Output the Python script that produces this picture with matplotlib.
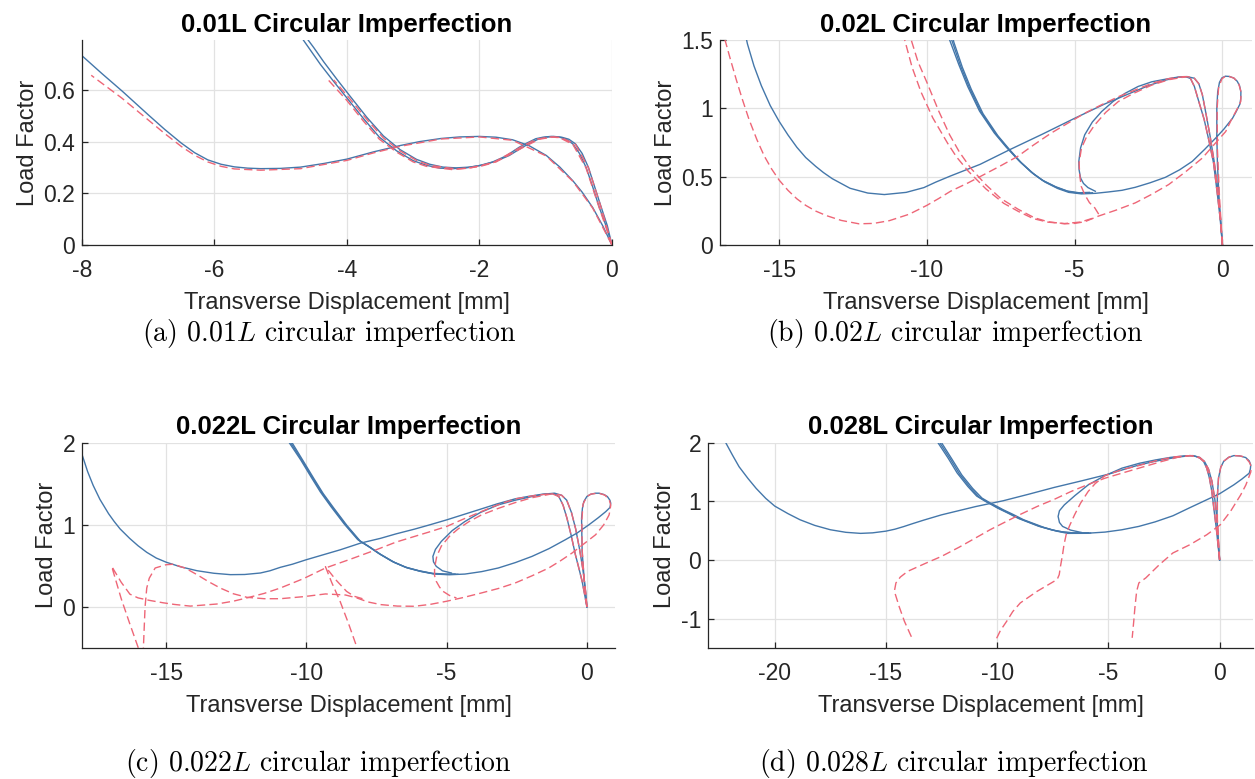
import numpy as np
import matplotlib.pyplot as plt

plt.rcParams['font.family'] = ['Liberation Sans', 'DejaVu Sans']
plt.rcParams['mathtext.fontset'] = 'cm'
plt.rcParams['axes.unicode_minus'] = False

BLUE = '#4477AA'
RED = '#EE6677'
DASH = (0, (6, 3))

# ---------------- (a) 0.01L : (displacement [mm], load factor) ----------------
a_blue_1 = [(0, 0), (-0.14, 0.075), (-0.29, 0.145), (-0.45, 0.205), (-0.59, 0.249), (-0.79, 0.303),
            (-0.99, 0.347), (-1.25, 0.385), (-1.5, 0.408), (-1.75, 0.418), (-2.0, 0.421), (-2.3, 0.419),
            (-2.58, 0.413), (-2.9, 0.401), (-3.19, 0.386), (-3.6, 0.361), (-4.0, 0.333), (-4.35, 0.316),
            (-4.7, 0.302), (-5.0, 0.297), (-5.3, 0.296), (-5.5, 0.298), (-5.7, 0.303), (-5.9, 0.313),
            (-6.1, 0.33), (-6.3, 0.358), (-6.5, 0.395), (-6.75, 0.448), (-7.0, 0.505), (-7.39, 0.596),
            (-7.7, 0.665), (-8.0, 0.734)]
a_blue_2 = [(0, 0), (-0.09, 0.075), (-0.19, 0.145), (-0.29, 0.225), (-0.39, 0.301), (-0.49, 0.355),
            (-0.59, 0.392), (-0.69, 0.41), (-0.79, 0.418), (-0.92, 0.421), (-1.04, 0.418), (-1.15, 0.412),
            (-1.27, 0.397), (-1.4, 0.379), (-1.6, 0.345), (-1.8, 0.322), (-2.0, 0.308), (-2.2, 0.299),
            (-2.4, 0.296), (-2.6, 0.298), (-2.8, 0.309), (-3.0, 0.327), (-3.25, 0.365), (-3.51, 0.418),
            (-3.75, 0.49), (-4.0, 0.57), (-4.2, 0.634), (-4.4, 0.7), (-4.55, 0.755), (-4.7, 0.81)]
a_blue_3 = [(0, 0), (-0.07, 0.075), (-0.16, 0.145), (-0.26, 0.225), (-0.355, 0.301), (-0.45, 0.355),
            (-0.55, 0.392), (-0.65, 0.41), (-0.76, 0.418), (-0.88, 0.421), (-1.0, 0.418), (-1.1, 0.412),
            (-1.22, 0.397), (-1.35, 0.379), (-1.55, 0.347), (-1.75, 0.325), (-1.95, 0.31), (-2.15, 0.302),
            (-2.35, 0.299), (-2.55, 0.302), (-2.75, 0.313), (-2.95, 0.332), (-3.2, 0.37), (-3.45, 0.423),
            (-3.7, 0.495), (-3.95, 0.576), (-4.15, 0.642), (-4.35, 0.71), (-4.5, 0.765), (-4.63, 0.81)]
a_red_1 = [(0, 0), (-0.29, 0.143), (-0.59, 0.247), (-0.99, 0.345), (-1.5, 0.406), (-2.0, 0.419),
           (-2.58, 0.411), (-3.19, 0.383), (-3.6, 0.357), (-4.0, 0.328), (-4.7, 0.296), (-5.3, 0.29),
           (-5.7, 0.295), (-5.9, 0.305), (-6.1, 0.322), (-6.3, 0.348), (-6.5, 0.382), (-6.75, 0.432),
           (-7.0, 0.485), (-7.4, 0.57), (-7.86, 0.658)]
a_red_2 = [(0, 0), (-0.19, 0.143), (-0.39, 0.298), (-0.59, 0.39), (-0.79, 0.416), (-0.92, 0.419),
           (-1.15, 0.41), (-1.4, 0.376), (-1.8, 0.318), (-2.0, 0.304), (-2.4, 0.292), (-2.8, 0.305),
           (-3.0, 0.322), (-3.25, 0.36), (-3.51, 0.41), (-3.75, 0.48), (-4.0, 0.56), (-4.3, 0.645)]
a_red_3 = [(0, 0), (-0.16, 0.143), (-0.355, 0.299), (-0.55, 0.39), (-0.76, 0.416), (-0.88, 0.419),
           (-1.1, 0.41), (-1.35, 0.377), (-1.75, 0.322), (-2.15, 0.298), (-2.35, 0.295), (-2.75, 0.309),
           (-2.95, 0.328), (-3.2, 0.365), (-3.45, 0.415), (-3.7, 0.487), (-3.95, 0.565), (-4.2, 0.64)]

# ---------------- (b) 0.02L ----------------
b_blue_1 = [(0, 0), (-0.08, 0.2), (-0.17, 0.369), (-0.3, 0.6), (-0.45, 0.757), (-0.62, 0.92), (-0.8, 1.05),
            (-0.95, 1.16), (-1.08, 1.218), (-1.25, 1.232), (-1.5, 1.228), (-1.93, 1.206), (-2.45, 1.17),
            (-2.95, 1.126), (-4.0, 1.03), (-5.0, 0.927), (-6.1, 0.81), (-7.2, 0.697), (-8.2, 0.59),
            (-9.2, 0.505), (-9.7, 0.46), (-10.1, 0.42), (-10.7, 0.385), (-11.44, 0.369), (-12.0, 0.38),
            (-12.6, 0.415), (-13.2, 0.485), (-13.5, 0.53), (-13.76, 0.575), (-14.1, 0.64), (-14.4, 0.715),
            (-14.7, 0.805), (-15.0, 0.905), (-15.3, 1.02), (-15.6, 1.165), (-15.85, 1.31), (-16.07, 1.47),
            (-16.15, 1.55)]
b_blue_2 = [(0, 0), (-0.06, 0.175), (-0.15, 0.4), (-0.28, 0.61), (-0.42, 0.8), (-0.57, 0.976), (-0.68, 1.1),
            (-0.8, 1.18), (-0.95, 1.22), (-1.2, 1.232), (-1.6, 1.225), (-2.0, 1.21), (-2.39, 1.194),
            (-2.85, 1.16), (-3.3, 1.109), (-3.7, 1.05), (-4.09, 0.976), (-4.4, 0.9), (-4.66, 0.806),
            (-4.8, 0.71), (-4.86, 0.61), (-4.85, 0.55), (-4.8, 0.49), (-4.7, 0.45), (-4.55, 0.42), (-4.3, 0.393)]
b_blue_3 = [(0, 0), (-0.11, 0.32), (-0.17, 0.6), (-0.19, 0.806), (-0.19, 1.0), (-0.16, 1.12), (-0.1, 1.19),
            (-0.02, 1.222), (0.1, 1.235), (0.23, 1.233), (0.38, 1.222), (0.5, 1.198), (0.58, 1.165),
            (0.625, 1.12), (0.62, 1.07), (0.59, 1.03), (0.45, 0.97), (0.34, 0.927), (0.05, 0.848),
            (-0.23, 0.782), (-0.6, 0.7), (-1.02, 0.612), (-1.45, 0.55), (-1.93, 0.495), (-2.45, 0.455),
            (-2.95, 0.422), (-3.4, 0.4), (-3.86, 0.388), (-4.3, 0.378), (-4.77, 0.374), (-5.2, 0.385),
            (-5.57, 0.413), (-6.0, 0.46), (-6.36, 0.515), (-6.8, 0.6), (-7.2, 0.697), (-7.6, 0.8),
            (-8.1, 0.96), (-8.5, 1.14), (-8.8, 1.3), (-9.09, 1.485), (-9.15, 1.55)]
b_blue_4 = [(-4.4, 0.382), (-4.8, 0.378), (-5.2, 0.39), (-5.6, 0.42), (-6.05, 0.468), (-6.42, 0.525),
            (-6.85, 0.61), (-7.26, 0.707), (-7.66, 0.81), (-8.16, 0.97), (-8.56, 1.15), (-8.86, 1.31),
            (-9.16, 1.5), (-9.22, 1.55)]
b_blue_5 = [(-4.5, 0.385), (-4.85, 0.382), (-5.25, 0.395), (-5.65, 0.427), (-6.1, 0.475), (-6.48, 0.535),
            (-6.9, 0.62), (-7.32, 0.717), (-7.72, 0.82), (-8.22, 0.98), (-8.62, 1.16), (-8.92, 1.32),
            (-9.23, 1.5), (-9.29, 1.55)]
b_red_1 = [(0, 0), (-0.08, 0.2), (-0.17, 0.369), (-0.3, 0.6), (-0.45, 0.757), (-0.62, 0.92), (-0.8, 1.05),
           (-0.95, 1.16), (-1.08, 1.218), (-1.3, 1.232), (-1.8, 1.218), (-2.39, 1.182), (-3.0, 1.13),
           (-3.52, 1.085), (-4.1, 1.025), (-4.66, 0.964), (-5.2, 0.895), (-5.8, 0.818), (-6.4, 0.73),
           (-6.93, 0.648), (-7.5, 0.58), (-8.07, 0.515), (-8.6, 0.455), (-9.2, 0.393), (-9.6, 0.34),
           (-10.0, 0.29), (-10.6, 0.225), (-11.27, 0.178), (-11.8, 0.158), (-12.3, 0.155), (-12.9, 0.18),
           (-13.4, 0.215), (-13.76, 0.248), (-14.1, 0.29), (-14.4, 0.338), (-14.7, 0.4), (-15.0, 0.475),
           (-15.25, 0.555), (-15.5, 0.65), (-15.75, 0.77), (-16.02, 0.92), (-16.25, 1.07), (-16.45, 1.21),
           (-16.65, 1.36), (-16.83, 1.5), (-16.9, 1.55)]
b_red_2 = [(0, 0), (-0.1, 0.35), (-0.17, 0.7), (-0.18, 1.0), (-0.13, 1.15), (-0.02, 1.215), (0.1, 1.235),
           (0.23, 1.233), (0.4, 1.22), (0.55, 1.18), (0.63, 1.12), (0.62, 1.05), (0.51, 1.0), (0.3, 0.915),
           (0.11, 0.83), (-0.3, 0.73), (-0.68, 0.636), (-1.25, 0.535), (-1.82, 0.442), (-2.4, 0.37),
           (-2.95, 0.308), (-3.6, 0.255), (-4.2, 0.211), (-4.66, 0.17), (-5.0, 0.158), (-5.34, 0.155),
           (-5.9, 0.17), (-6.36, 0.199), (-6.9, 0.26), (-7.5, 0.34), (-8.0, 0.44), (-8.52, 0.563),
           (-8.9, 0.68), (-9.23, 0.806), (-9.6, 0.98), (-10.0, 1.19), (-10.3, 1.34), (-10.53, 1.5),
           (-10.6, 1.55)]
b_red_3 = [(-4.4, 0.195), (-4.8, 0.168), (-5.34, 0.157), (-5.9, 0.167), (-6.4, 0.193), (-6.9, 0.245),
           (-7.4, 0.305), (-8.0, 0.41), (-8.6, 0.54), (-9.0, 0.645), (-9.3, 0.745), (-9.8, 0.93),
           (-10.2, 1.12), (-10.5, 1.3), (-10.75, 1.5), (-10.8, 1.55)]
b_red_4 = [(0, 0), (-0.06, 0.175), (-0.15, 0.4), (-0.28, 0.61), (-0.42, 0.8), (-0.57, 0.976), (-0.68, 1.1),
           (-0.8, 1.18), (-0.95, 1.22), (-1.2, 1.232), (-1.8, 1.21), (-2.39, 1.17), (-3.0, 1.11),
           (-3.52, 1.05), (-3.95, 0.97), (-4.32, 0.879), (-4.6, 0.79), (-4.77, 0.709), (-4.85, 0.6),
           (-4.83, 0.515), (-4.78, 0.43), (-4.66, 0.369), (-4.5, 0.31), (-4.32, 0.272), (-4.18, 0.223)]

# ---------------- (c) 0.022L ----------------
c_blue_1 = [(0, 0), (-0.08, 0.15), (-0.17, 0.312), (-0.3, 0.49), (-0.41, 0.636), (-0.56, 0.87), (-0.71, 1.08),
            (-0.85, 1.24), (-1.0, 1.344), (-1.18, 1.38), (-1.6, 1.372), (-2.1, 1.345), (-2.56, 1.316),
            (-3.2, 1.255), (-3.76, 1.194), (-4.4, 1.125), (-5.0, 1.06), (-5.6, 1.0), (-6.15, 0.947),
            (-6.8, 0.89), (-7.36, 0.835), (-8.07, 0.777), (-8.79, 0.696), (-9.4, 0.635), (-10.0, 0.575),
            (-10.5, 0.52), (-10.93, 0.482), (-11.3, 0.44), (-11.64, 0.413), (-12.2, 0.395), (-12.71, 0.393),
            (-13.3, 0.41), (-13.9, 0.441), (-14.5, 0.49), (-15.0, 0.545), (-15.35, 0.595), (-15.69, 0.665),
            (-16.0, 0.745), (-16.3, 0.835), (-16.64, 0.95), (-16.85, 1.04), (-17.05, 1.135), (-17.36, 1.31),
            (-17.6, 1.48), (-17.8, 1.65), (-18.01, 1.87), (-18.05, 1.92)]
c_blue_2 = [(0, 0), (-0.05, 0.2), (-0.14, 0.45), (-0.26, 0.7), (-0.4, 0.95), (-0.55, 1.15), (-0.72, 1.3),
            (-0.9, 1.36), (-1.15, 1.385), (-1.5, 1.375), (-1.96, 1.344), (-2.55, 1.3), (-3.16, 1.243),
            (-3.8, 1.15), (-4.35, 1.04), (-4.8, 0.93), (-5.19, 0.798), (-5.4, 0.7), (-5.49, 0.615),
            (-5.47, 0.55), (-5.37, 0.494), (-5.15, 0.44), (-4.83, 0.413)]
c_blue_3 = [(0, 0), (-0.1, 0.35), (-0.17, 0.676), (-0.19, 1.08), (-0.16, 1.2), (-0.11, 1.283), (0.0, 1.345),
            (0.13, 1.372), (0.3, 1.385), (0.43, 1.385), (0.6, 1.37), (0.73, 1.344), (0.82, 1.3),
            (0.85, 1.263), (0.82, 1.21), (0.67, 1.16), (0.4, 1.085), (0.07, 1.0), (-0.35, 0.9),
            (-0.77, 0.818), (-1.35, 0.71), (-1.96, 0.615), (-2.55, 0.54), (-3.16, 0.474), (-3.75, 0.43),
            (-4.35, 0.4), (-4.9, 0.392), (-5.43, 0.4), (-5.9, 0.43), (-6.39, 0.474), (-6.85, 0.54),
            (-7.34, 0.636), (-7.7, 0.72), (-8.07, 0.798), (-8.55, 0.99), (-9.02, 1.202), (-9.4, 1.38),
            (-9.74, 1.567), (-10.1, 1.77), (-10.51, 2.0), (-10.6, 2.05)]
c_blue_4 = [(-4.6, 0.398), (-5.0, 0.396), (-5.48, 0.405), (-5.95, 0.436), (-6.44, 0.48), (-6.9, 0.548),
            (-7.39, 0.646), (-7.75, 0.73), (-8.12, 0.81), (-8.6, 1.0), (-9.07, 1.21), (-9.45, 1.39),
            (-9.79, 1.577), (-10.15, 1.78), (-10.56, 2.0), (-10.65, 2.05)]
c_blue_5 = [(-4.7, 0.401), (-5.05, 0.4), (-5.53, 0.41), (-6.0, 0.442), (-6.49, 0.487), (-6.95, 0.556),
            (-7.44, 0.656), (-7.8, 0.74), (-8.17, 0.82), (-8.65, 1.01), (-9.12, 1.22), (-9.5, 1.4),
            (-9.84, 1.587), (-10.2, 1.79), (-10.61, 2.0), (-10.7, 2.05)]
c_red_1 = [(0, 0), (-0.08, 0.15), (-0.17, 0.312), (-0.3, 0.49), (-0.41, 0.636), (-0.56, 0.87), (-0.71, 1.08),
           (-0.85, 1.24), (-1.0, 1.344), (-1.25, 1.38), (-1.8, 1.36), (-2.56, 1.316), (-3.2, 1.24),
           (-3.76, 1.162), (-4.4, 1.07), (-5.0, 0.98), (-5.6, 0.915), (-6.15, 0.858), (-6.8, 0.79),
           (-7.48, 0.7), (-8.4, 0.585), (-9.32, 0.474), (-10.1, 0.345), (-10.93, 0.23), (-11.5, 0.165),
           (-12.12, 0.11), (-12.6, 0.07), (-13.2, 0.035), (-14.14, 0.01), (-14.7, 0.03), (-15.1, 0.05),
           (-15.6, 0.08), (-16.0, 0.11), (-16.29, 0.155), (-16.6, 0.3), (-16.94, 0.494), (-16.6, 0.1),
           (-16.3, -0.2), (-15.99, -0.5)]
c_red_2 = [(0, 0), (-0.1, 0.35), (-0.17, 0.7), (-0.18, 1.05), (-0.14, 1.25), (0.0, 1.345), (0.15, 1.375),
           (0.43, 1.385), (0.65, 1.36), (0.8, 1.3), (0.85, 1.24), (0.82, 1.17), (0.79, 1.12), (0.6, 1.0),
           (0.31, 0.879), (-0.1, 0.77), (-0.53, 0.656), (-0.95, 0.56), (-1.36, 0.474), (-1.95, 0.38),
           (-2.56, 0.291), (-3.15, 0.225), (-3.76, 0.17), (-4.4, 0.115), (-5.0, 0.069), (-5.6, 0.03),
           (-6.15, 0.008), (-6.75, 0.01), (-7.34, 0.028), (-7.8, 0.06), (-8.2, 0.109), (-8.6, 0.145),
           (-9.32, 0.158), (-10.1, 0.125), (-10.93, 0.1), (-11.5, 0.1), (-12.12, 0.117), (-12.6, 0.16),
           (-13.07, 0.23), (-13.5, 0.31), (-13.9, 0.393), (-14.3, 0.47), (-14.74, 0.52), (-15.0, 0.514),
           (-15.39, 0.474), (-15.6, 0.35), (-15.69, 0.23), (-15.75, 0.0), (-15.81, -0.5)]
c_red_3 = [(-8.0, 0.1), (-8.3, 0.13), (-8.57, 0.19), (-8.95, 0.33), (-9.32, 0.49), (-9.1, 0.3),
           (-8.8, 0.07), (-8.5, -0.2), (-8.19, -0.5)]
c_red_4 = [(0, 0), (-0.05, 0.2), (-0.14, 0.45), (-0.26, 0.7), (-0.4, 0.95), (-0.55, 1.15), (-0.72, 1.3),
           (-0.9, 1.36), (-1.2, 1.38), (-1.96, 1.33), (-2.56, 1.27), (-3.16, 1.2), (-3.76, 1.12),
           (-4.2, 1.04), (-4.59, 0.95), (-4.9, 0.86), (-5.19, 0.74), (-5.35, 0.62), (-5.43, 0.474),
           (-5.43, 0.38), (-5.37, 0.312), (-5.25, 0.24), (-5.13, 0.19), (-4.9, 0.14), (-4.65, 0.109)]

# ---------------- (d) 0.028L ----------------
d_blue_1 = [(0, 0), (-0.07, 0.25), (-0.15, 0.545), (-0.25, 0.85), (-0.35, 1.168), (-0.46, 1.4), (-0.58, 1.566),
            (-0.72, 1.68), (-0.88, 1.736), (-1.1, 1.77), (-1.34, 1.78), (-1.85, 1.755), (-2.41, 1.72),
            (-3.0, 1.675), (-3.63, 1.62), (-4.3, 1.545), (-5.0, 1.463), (-6.2, 1.35), (-7.44, 1.237),
            (-8.6, 1.12), (-9.73, 1.01), (-10.98, 0.91), (-12.5, 0.77), (-13.3, 0.68), (-13.8, 0.62),
            (-14.2, 0.57), (-14.6, 0.525), (-15.0, 0.492), (-15.6, 0.463), (-16.14, 0.454), (-16.8, 0.472),
            (-17.5, 0.516), (-18.2, 0.59), (-18.86, 0.686), (-19.4, 0.79), (-20.0, 0.92), (-20.4, 1.05),
            (-20.83, 1.22), (-21.2, 1.39), (-21.6, 1.59), (-21.9, 1.79), (-22.2, 2.0), (-22.3, 2.07)]
d_blue_2 = [(0, 0), (-0.05, 0.3), (-0.12, 0.7), (-0.22, 1.05), (-0.35, 1.35), (-0.5, 1.55), (-0.68, 1.68),
            (-0.9, 1.75), (-1.2, 1.78), (-1.6, 1.775), (-2.2, 1.75), (-2.87, 1.707), (-3.6, 1.65),
            (-4.39, 1.566), (-5.2, 1.43), (-5.91, 1.28), (-6.5, 1.1), (-6.98, 0.94), (-7.2, 0.84),
            (-7.26, 0.743), (-7.2, 0.64), (-7.06, 0.573), (-6.7, 0.51), (-6.22, 0.47)]
d_blue_3 = [(0, 0), (-0.07, 0.3), (-0.12, 0.715), (-0.1, 1.1), (-0.05, 1.395), (0.05, 1.58), (0.18, 1.68),
            (0.4, 1.75), (0.64, 1.78), (0.9, 1.775), (1.17, 1.747), (1.33, 1.69), (1.4, 1.62), (1.38, 1.55),
            (1.33, 1.48), (1.0, 1.38), (0.64, 1.282), (0.0, 1.13), (-0.58, 1.027), (-1.35, 0.89),
            (-2.1, 0.754), (-2.9, 0.65), (-3.63, 0.573), (-4.4, 0.515), (-5.15, 0.476), (-6.0, 0.455),
            (-6.83, 0.454), (-7.3, 0.49), (-7.9, 0.556), (-8.81, 0.686), (-9.3, 0.78), (-9.73, 0.857),
            (-10.0, 0.913), (-10.3, 0.97), (-10.68, 1.055), (-11.1, 1.22), (-11.59, 1.45), (-12.0, 1.7),
            (-12.5, 2.0), (-12.6, 2.06)]
d_blue_4 = [(-5.8, 0.46), (-6.5, 0.458), (-7.0, 0.475), (-7.45, 0.505), (-8.05, 0.568), (-8.95, 0.7),
            (-9.45, 0.795), (-9.88, 0.873), (-10.15, 0.93), (-10.45, 0.99), (-10.82, 1.075), (-11.22, 1.24),
            (-11.7, 1.47), (-12.1, 1.72), (-12.58, 2.0), (-12.68, 2.06)]
d_blue_5 = [(-5.9, 0.465), (-6.6, 0.463), (-7.1, 0.482), (-7.55, 0.514), (-8.15, 0.578), (-9.05, 0.71),
            (-9.55, 0.806), (-9.98, 0.885), (-10.25, 0.943), (-10.55, 1.005), (-10.92, 1.09), (-11.32, 1.255),
            (-11.8, 1.485), (-12.2, 1.735), (-12.66, 2.0), (-12.76, 2.06)]
d_red_1 = [(0, 0), (-0.07, 0.25), (-0.15, 0.545), (-0.25, 0.85), (-0.35, 1.168), (-0.46, 1.4), (-0.58, 1.566),
           (-0.72, 1.68), (-0.88, 1.736), (-1.1, 1.77), (-1.34, 1.78), (-1.9, 1.75), (-2.6, 1.68),
           (-3.63, 1.566), (-4.4, 1.48), (-5.15, 1.395), (-5.9, 1.29), (-6.68, 1.168), (-7.4, 1.04),
           (-8.2, 0.913), (-9.0, 0.77), (-9.73, 0.63), (-10.3, 0.52), (-10.98, 0.374), (-11.7, 0.22),
           (-12.5, 0.062), (-13.3, -0.07), (-14.02, -0.193), (-14.35, -0.29), (-14.55, -0.391),
           (-14.62, -0.533), (-14.4, -0.8), (-14.17, -1.044), (-13.8, -1.356)]
d_red_2 = [(0, 0), (-0.05, 0.3), (-0.12, 0.7), (-0.22, 1.05), (-0.35, 1.35), (-0.5, 1.55), (-0.68, 1.68),
           (-0.9, 1.75), (-1.3, 1.78), (-2.0, 1.76), (-2.8, 1.7), (-3.63, 1.61), (-4.4, 1.54), (-5.15, 1.44),
           (-5.6, 1.3), (-5.91, 1.168), (-6.25, 0.97), (-6.52, 0.771), (-6.75, 0.58), (-6.9, 0.431),
           (-7.0, 0.25), (-7.06, 0.091), (-7.15, -0.1), (-7.21, -0.25), (-7.3, -0.33), (-7.44, -0.363),
           (-8.2, -0.533), (-8.96, -0.732), (-9.3, -0.88), (-9.57, -1.044), (-9.85, -1.2), (-10.05, -1.356)]
d_red_3 = [(0, 0), (-0.05, 0.3), (-0.1, 0.7), (-0.1, 1.1), (-0.05, 1.4), (0.05, 1.58), (0.2, 1.69),
           (0.45, 1.76), (0.7, 1.78), (1.0, 1.77), (1.2, 1.73), (1.35, 1.66), (1.42, 1.59), (1.4, 1.5),
           (1.3, 1.4), (1.18, 1.28), (0.95, 1.112), (0.49, 0.83), (0.03, 0.6), (-0.58, 0.43), (-1.34, 0.26),
           (-2.1, 0.12), (-2.71, -0.08), (-3.32, -0.306), (-3.63, -0.391), (-3.73, -0.533), (-3.81, -0.82),
           (-3.86, -1.044), (-3.93, -1.327)]

# axis ranges and tick labels
a_xticks = [-8, -6, -4, -2, 0]
a_yticks = [0, 0.2, 0.4, 0.6]
a_ylabels = ['0', '0.2', '0.4', '0.6']
b_xticks = [-15, -10, -5, 0]
b_yticks = [0, 0.5, 1, 1.5]
b_ylabels = ['0', '0.5', '1', '1.5']
c_xticks = [-15, -10, -5, 0]
c_yticks = [0, 1, 2]
c_ylabels = ['0', '1', '2']
d_xticks = [-20, -15, -10, -5, 0]
d_yticks = [-1, 0, 1, 2]
d_ylabels = ['-1', '0', '1', '2']


def xy(pts):
    arr = np.array(pts, dtype=float)
    return arr[:, 0], arr[:, 1]


def draw_panel(ax, blues, reds, title, xlim, ylim, xticks, yticks, ylabels):
    for pts in blues:
        x, y = xy(pts)
        ax.plot(x, y, color=BLUE, lw=1.0)
    for pts in reds:
        x, y = xy(pts)
        ax.plot(x, y, color=RED, lw=1.0, ls=DASH)
    ax.set_xlim(xlim)
    ax.set_ylim(ylim)
    ax.set_xticks(xticks)
    ax.set_xticklabels([str(t) for t in xticks])
    ax.set_yticks(yticks)
    ax.set_yticklabels(ylabels)
    ax.grid(True, color='#e2e2e2', lw=0.9)
    ax.set_axisbelow(True)
    for side in ['top', 'right']:
        ax.spines[side].set_visible(False)
    for side in ['left', 'bottom']:
        ax.spines[side].set_color('#262626')
        ax.spines[side].set_linewidth(0.9)
    ax.tick_params(direction='in', length=4, width=0.9, color='#262626',
                   labelsize=16.5, labelcolor='#262626')
    ax.tick_params(axis='x', pad=10)
    ax.tick_params(axis='y', pad=5)
    ax.set_title(title, fontsize=18.5, fontweight='bold', pad=6)
    ax.set_xlabel('Transverse Displacement [mm]', fontsize=17, color='#262626', labelpad=7)
    ax.set_ylabel('Load Factor', fontsize=17, color='#262626', labelpad=3)


fig = plt.figure(figsize=(12.55, 7.79), dpi=100)
ax_a = fig.add_axes([0.0653, 0.6855, 0.4223, 0.2632])
ax_b = fig.add_axes([0.5737, 0.6855, 0.4239, 0.2632])
ax_c = fig.add_axes([0.0653, 0.1682, 0.4247, 0.2635])
ax_d = fig.add_axes([0.5641, 0.1682, 0.4343, 0.2635])

draw_panel(ax_a, [a_blue_1, a_blue_2, a_blue_3], [a_red_1, a_red_2, a_red_3],
           '0.01L Circular Imperfection', (-8, 0), (0, 0.795), a_xticks, a_yticks, a_ylabels)
draw_panel(ax_b, [b_blue_1, b_blue_2, b_blue_3, b_blue_4, b_blue_5], [b_red_1, b_red_2, b_red_3, b_red_4],
           '0.02L Circular Imperfection', (-17, 1), (0, 1.5), b_xticks, b_yticks, b_ylabels)
draw_panel(ax_c, [c_blue_1, c_blue_2, c_blue_3, c_blue_4, c_blue_5], [c_red_1, c_red_2, c_red_3, c_red_4],
           '0.022L Circular Imperfection', (-18, 1), (-0.5, 2), c_xticks, c_yticks, c_ylabels)
draw_panel(ax_d, [d_blue_1, d_blue_2, d_blue_3, d_blue_4, d_blue_5], [d_red_1, d_red_2, d_red_3],
           '0.028L Circular Imperfection', (-23, 1.5), (-1.5, 2), d_xticks, d_yticks, d_ylabels)

cap = dict(family='cmr10', fontsize=20, ha='center', va='center')
fig.text(0.2625, 0.5725, r'(a) $0.01L$ circular imperfection', **cap)
fig.text(0.761, 0.5725, r'(b) $0.02L$ circular imperfection', **cap)
fig.text(0.2538, 0.0205, r'(c) $0.022L$ circular imperfection', **cap)
fig.text(0.760, 0.0205, r'(d) $0.028L$ circular imperfection', **cap)

fig.savefig('out.png', dpi=100)
